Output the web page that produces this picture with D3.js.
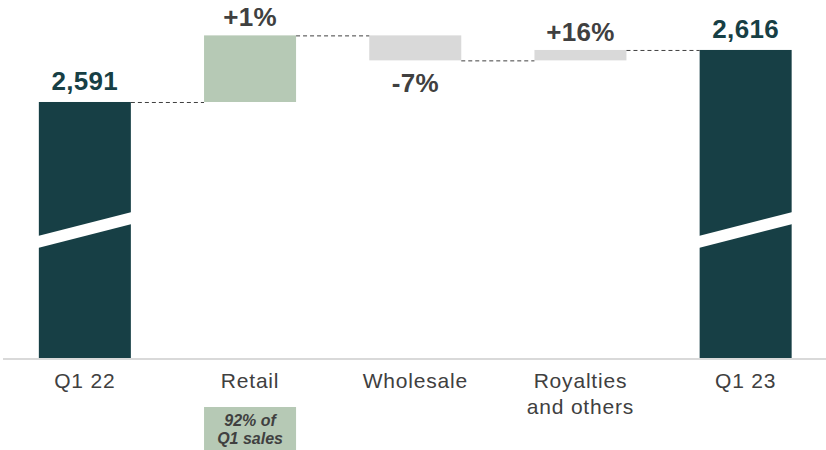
<!DOCTYPE html>
<html>
<head>
<meta charset="utf-8">
<script src="https://cdn.jsdelivr.net/npm/d3@7"></script>
<style>
  body { margin: 0; background: #fff; }
  text { font-family: "Liberation Sans", Arial, sans-serif; }
</style>
</head>
<body>
<div class="chart"></div>
<script>
var svgWidth = 826;
var svgHeight = 450;

// chart values
var categories = ["Q1 22", "Retail", "Wholesale", "Royalties and others", "Q1 23"];
var catLines = [["Q1 22"], ["Retail"], ["Wholesale"], ["Royalties", "and others"], ["Q1 23"]];
var values = [2591, 32, -12, 5, 2616];
var kinds = ["total", "delta", "delta", "delta", "total"];
var valueLabels = ["2,591", "+1%", "-7%", "+16%", "2,616"];
var noteLines = ["92% of", "Q1 sales"];

var baseY = 358;
var teal = "#173f45";
var green = "#b6c9b5";
var grey = "#d9d9d9";
var textGrey = "#404040";

var svg = d3.select(".chart")
    .append("svg")
    .attr("width", svgWidth)
    .attr("height", svgHeight);

// build waterfall steps
var running = 0;
var steps = categories.map(function(c, i) {
    var s, e;
    if (kinds[i] === "total") {
        s = null; e = values[i];
    } else {
        s = running; e = running + values[i];
    }
    running = e;
    return { cat: c, start: s, end: e, kind: kinds[i], value: values[i], label: valueLabels[i], lines: catLines[i] };
});

var x = d3.scaleBand()
    .domain(categories)
    .range([2.5, 828])
    .paddingInner(0.443)
    .paddingOuter(0.22);

// broken axis: bottom of the plot stands for 2468
var y = d3.scaleLinear()
    .domain([2468, 2640])
    .range([baseY, 0]);

function barTop(d) {
    return d.kind === "total" ? y(d.end) : y(Math.max(d.start, d.end));
}
function barBottom(d) {
    return d.kind === "total" ? baseY : y(Math.min(d.start, d.end));
}
function barColor(d) {
    if (d.kind === "total") return teal;
    return d.value > 0 && d.cat === "Retail" ? green : grey;
}

// axis line
svg.append("line")
    .attr("x1", 3).attr("x2", svgWidth)
    .attr("y1", baseY + 1).attr("y2", baseY + 1)
    .attr("stroke", grey)
    .attr("stroke-width", 2);

// bars
svg.selectAll("rect.bar")
    .data(steps)
    .enter()
    .append("rect")
    .attr("class", "bar")
    .attr("x", d => x(d.cat))
    .attr("y", d => barTop(d))
    .attr("width", x.bandwidth())
    .attr("height", d => barBottom(d) - barTop(d))
    .attr("fill", d => barColor(d));

// break marks on total bars
svg.selectAll("polygon.brk")
    .data(steps.filter(d => d.kind === "total"))
    .enter()
    .append("polygon")
    .attr("class", "brk")
    .attr("fill", "#fff")
    .attr("points", function(d) {
        var x0 = x(d.cat) - 1, x1 = x(d.cat) + x.bandwidth() + 1;
        var l = baseY - 116, r = baseY - 140;
        return [[x0, l - 6], [x1, r - 6], [x1, r + 6], [x0, l + 6]].join(" ");
    });

// dashed connectors
svg.selectAll("line.conn")
    .data(steps.slice(0, -1))
    .enter()
    .append("line")
    .attr("class", "conn")
    .attr("x1", d => x(d.cat) + x.bandwidth())
    .attr("x2", (d, i) => x(steps[i + 1].cat))
    .attr("y1", d => y(d.end) + 0.5)
    .attr("y2", d => y(d.end) + 0.5)
    .attr("stroke", "#404040")
    .attr("stroke-width", 1)
    .attr("stroke-dasharray", "4,3");

// value labels
svg.selectAll("text.val")
    .data(steps)
    .enter()
    .append("text")
    .attr("class", "val")
    .attr("x", d => x(d.cat) + x.bandwidth() / 2)
    .attr("y", function(d) {
        if (d.kind === "total") return barTop(d) - 12;
        if (d.value < 0) return barBottom(d) + 32;
        return barTop(d) - 9;
    })
    .attr("text-anchor", "middle")
    .attr("font-size", 26)
    .attr("font-weight", "bold")
    .attr("letter-spacing", 0.3)
    .attr("fill", d => d.kind === "total" ? teal : textGrey)
    .text(d => d.label);

// category labels
var cats = svg.selectAll("text.cat")
    .data(steps)
    .enter()
    .append("text")
    .attr("class", "cat")
    .attr("x", d => x(d.cat) + x.bandwidth() / 2)
    .attr("y", 388)
    .attr("text-anchor", "middle")
    .attr("font-size", 21)
    .attr("letter-spacing", 0.8)
    .attr("fill", textGrey);

cats.selectAll("tspan")
    .data(d => d.lines.map(t => ({ t: t, cx: x(d.cat) + x.bandwidth() / 2 })))
    .enter()
    .append("tspan")
    .attr("x", d => d.cx)
    .attr("dy", (d, i) => i === 0 ? 0 : 26)
    .text(d => d.t);

// retail note box
var noteX = x("Retail");
svg.append("rect")
    .attr("x", noteX)
    .attr("y", 407)
    .attr("width", x.bandwidth())
    .attr("height", 50)
    .attr("fill", green);

svg.append("text")
    .attr("text-anchor", "middle")
    .attr("font-size", 16)
    .attr("font-weight", "bold")
    .attr("font-style", "italic")
    .attr("fill", textGrey)
    .selectAll("tspan")
    .data(noteLines)
    .enter()
    .append("tspan")
    .attr("x", noteX + x.bandwidth() / 2)
    .attr("y", (d, i) => 426 + i * 18)
    .text(d => d);
</script>
</body>
</html>
